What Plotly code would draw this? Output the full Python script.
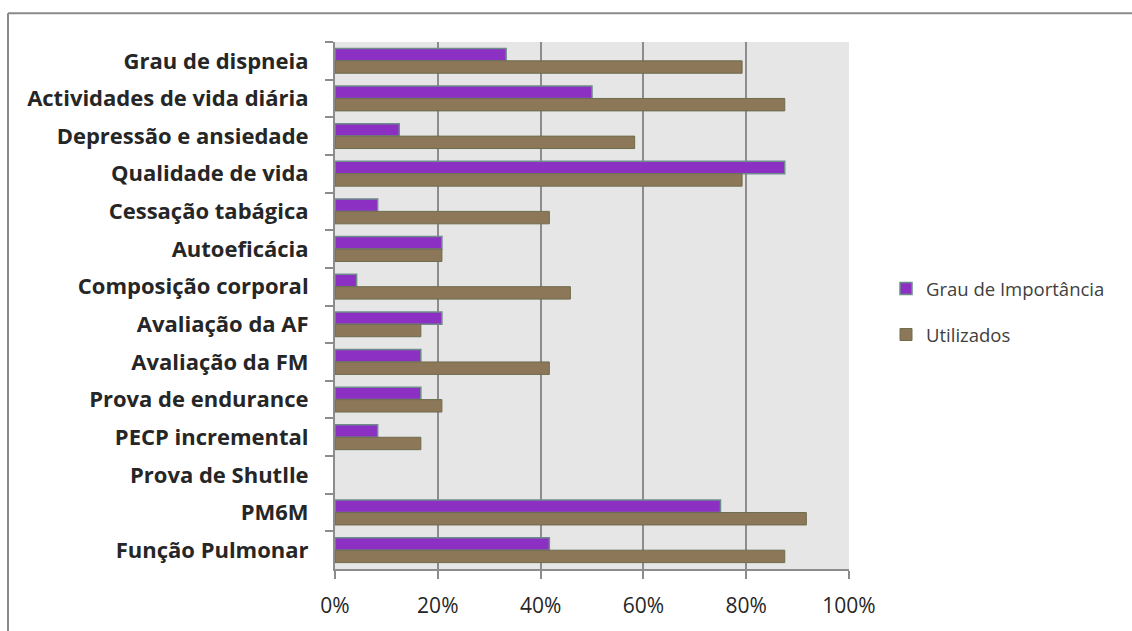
import plotly.graph_objects as go

categories = ["Grau de dispneia", "Actividades de vida diária", "Depressão e ansiedade",
              "Qualidade de vida", "Cessação tabágica", "Autoeficácia", "Composição corporal",
              "Avaliação da AF", "Avaliação da FM", "Prova de endurance", "PECP incremental",
              "Prova de Shutlle", "PM6M", "Função Pulmonar"]
grau_importancia = [33.3, 50.0, 12.5, 87.5, 8.3, 20.8, 4.2, 20.8, 16.7, 16.7, 8.3, 0, 75.0, 41.7]
utilizados = [79.2, 87.5, 58.3, 79.2, 41.7, 20.8, 45.8, 16.7, 41.7, 20.8, 16.7, 0, 91.7, 87.5]
x_ticks = [0, 20, 40, 60, 80, 100]
x_ticklabels = ["0%", "20%", "40%", "60%", "80%", "100%"]

W, H = 1132, 631
ML, MR, MT, MB = 335, 283, 42, 58
PW, PH = W - ML - MR, H - MT - MB

fig = go.Figure()
fig.add_trace(go.Bar(
    y=categories, x=grau_importancia, orientation="h", name="Grau de Importância",
    marker=dict(color="#8B30C2",
                line=dict(color="#6F8C8C", width=[1.5 if v > 0 else 0 for v in grau_importancia])),
    legendgroup="a"))
fig.add_trace(go.Bar(
    y=categories, x=utilizados, orientation="h", name="Utilizados",
    marker=dict(color="#8C7759",
                line=dict(color="#6E6C4E", width=[1 if v > 0 else 0 for v in utilizados])),
    legendgroup="b"))

def px_x(p):
    return (p - ML) / PW

def px_y(p):
    return (H - MB - p) / PH

# outer chart frame
fig.add_shape(type="line", xref="paper", yref="paper", x0=px_x(8), x1=px_x(1140),
              y0=px_y(13), y1=px_y(13), line=dict(color="#8a8a8a", width=2))
fig.add_shape(type="line", xref="paper", yref="paper", x0=px_x(8), x1=px_x(8),
              y0=px_y(13), y1=px_y(640), line=dict(color="#8a8a8a", width=2))

fig.update_layout(
    width=W, height=H,
    margin=dict(l=ML, r=MR, t=MT, b=MB, pad=0),
    paper_bgcolor="white", plot_bgcolor="#E6E6E6",
    barmode="group", bargap=0.34, bargroupgap=0,
    font=dict(family="Open Sans", color="#262626"),
    showlegend=True,
    legend=dict(x=px_x(886), y=px_y(314), xanchor="left", yanchor="middle",
                traceorder="grouped", tracegroupgap=19, itemwidth=30,
                font=dict(size=18.5, color="#404040"), bgcolor="rgba(0,0,0,0)"),
    xaxis=dict(range=[0, 100], tickvals=x_ticks, ticktext=x_ticklabels,
               showgrid=True, gridcolor="#8C8C8C", gridwidth=2,
               showline=True, linecolor="#8C8C8C", linewidth=2,
               ticks="outside", ticklen=8, tickcolor="#8C8C8C", tickwidth=2,
               tickfont=dict(size=21, color="#262626"), ticklabelstandoff=9,
               zeroline=False, fixedrange=True),
    yaxis=dict(autorange="reversed", type="category", tickson="boundaries",
               showgrid=False, showline=True, linecolor="#8C8C8C", linewidth=2,
               ticks="outside", ticklen=8, tickcolor="#8C8C8C", tickwidth=2,
               tickfont=dict(size=22, color="#262626", family="Open Sans", weight="bold"),
               ticklabelstandoff=20),
)

fig.write_html("out.html")
